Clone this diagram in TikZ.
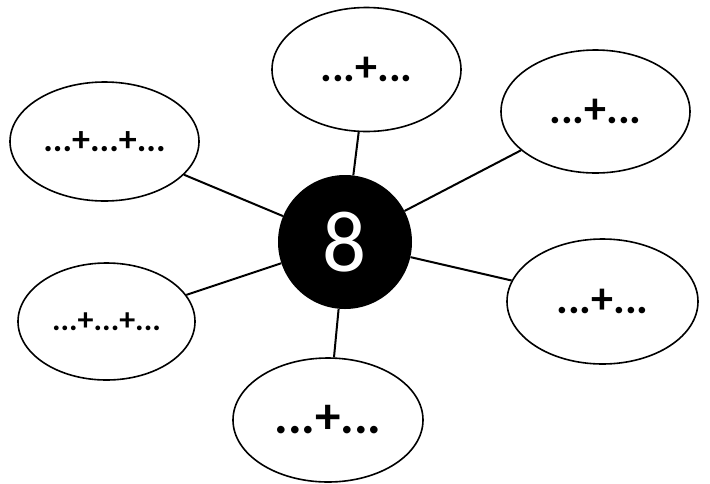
\documentclass[tikz,border=0pt]{standalone}
\usepackage{fontspec}
\setmainfont{Carlito}
\usetikzlibrary{shapes.geometric}
\newcommand{\fsz}[1]{\fontsize{#1pt}{#1pt}\selectfont}
\begin{document}
\begin{tikzpicture}[x=1pt,y=-1pt,
  bubble/.style={ellipse,draw=black,line width=1.6pt,fill=white,inner sep=0pt},
  hub/.style={circle,fill=black,inner sep=0pt,minimum size=134pt,text=white,font=\fsz{87}},
  spoke/.style={line width=2pt,draw=black}]
  \useasboundingbox (0,0) rectangle (710,483);
  % central number
  \node[hub] (c) at (345,242) {8};
  % surrounding sums
  \node[bubble,minimum width=189pt,minimum height=124pt,font=\bfseries\fsz{44}] (t)  at (366.5,69.5)  {...+...};
  \node[bubble,minimum width=189pt,minimum height=123pt,font=\bfseries\fsz{44}] (tr) at (595.5,111.5) {...+...};
  \node[bubble,minimum width=191pt,minimum height=125pt,font=\bfseries\fsz{44}] (br) at (602.5,301.5) {...+...};
  \node[bubble,minimum width=190pt,minimum height=124pt,font=\bfseries\fsz{51}] (b)  at (328,420)     {...+...};
  \node[bubble,minimum width=189pt,minimum height=119pt,font=\bfseries\fsz{36}] (tl) at (104.5,141.5) {...+...+...};
  \node[bubble,minimum width=177pt,minimum height=117pt,font=\bfseries\fsz{32}] (bl) at (106.5,321.5) {...+...+...};
  % spokes
  \foreach \n in {t,tr,br,b,tl,bl}
    \draw[spoke] (c) -- (\n);
\end{tikzpicture}
\end{document}
